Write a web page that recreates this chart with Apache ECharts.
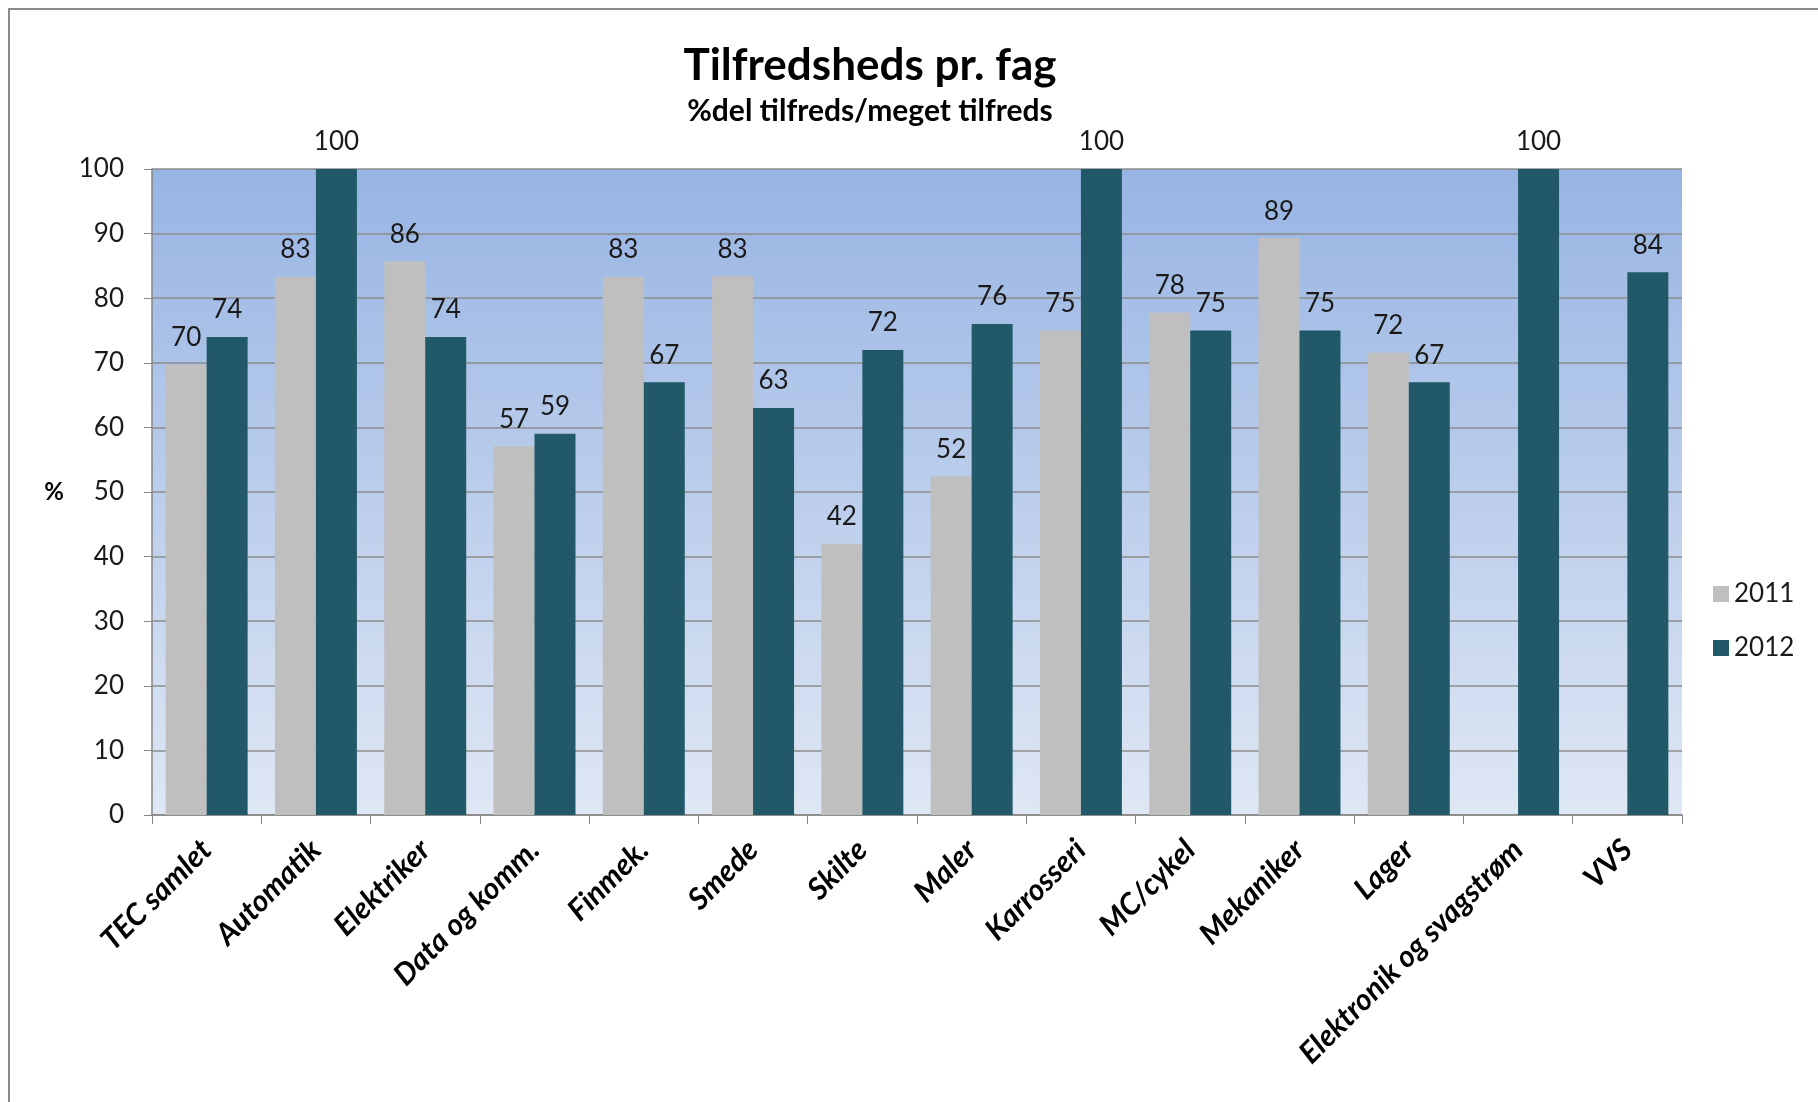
<!DOCTYPE html>
<html>
<head>
<meta charset="utf-8">
<script src="https://cdn.jsdelivr.net/npm/echarts@6/dist/echarts.min.js"></script>
<style>
  html, body { margin: 0; padding: 0; background: #fff; }
  #chart { width: 1818px; height: 1102px; }
</style>
</head>
<body>
<div id="chart"></div>
<script>
// kategorier (fag)
const fag = ['TEC samlet', 'Automatik', 'Elektriker', 'Data og komm.', 'Finmek.', 'Smede', 'Skilte',
  'Maler', 'Karrosseri', 'MC/cykel', 'Mekaniker', 'Lager', 'Elektronik og svagstrøm', 'VVS'];
// % tilfreds/meget tilfreds
const vaerdier2011 = [69.7, 83.3, 85.7, 57.1, 83.3, 83.4, 42.0, 52.4, 75.0, 77.8, 89.3, 71.6, null, null];
const vaerdier2012 = [74, 100, 74, 59, 67, 63, 72, 76, 100, 75, 75, 67, 100, 84];
const aar = ['2011', '2012'];

const chart = echarts.init(document.getElementById('chart'));

const fontFam = 'Lato, "Open Sans", sans-serif';

const labelStyle = {
  show: true,
  position: 'top',
  distance: 14,
  fontSize: 26,
  fontFamily: fontFam,
  color: '#1a1a1a',
  formatter: p => (p.value == null ? '' : Math.round(p.value))
};

const option = {
  backgroundColor: '#fff',
  animation: false,
  title: [
    {
      text: 'Tilfredsheds pr. fag',
      left: 865,
      top: 39,
      textAlign: 'center',
      textStyle: { fontSize: 44, fontWeight: 'bold', fontFamily: fontFam, color: '#000' }
    },
    {
      text: '%del tilfreds/meget tilfreds',
      left: 865,
      top: 91,
      textAlign: 'center',
      textStyle: { fontSize: 30, fontWeight: 'bold', fontFamily: fontFam, color: '#000' }
    }
  ],
  legend: {
    data: aar,
    orient: 'vertical',
    left: 1708,
    top: 576,
    icon: 'rect',
    itemWidth: 16,
    itemHeight: 16,
    itemGap: 28,
    textStyle: { fontSize: 26, fontFamily: fontFam, color: '#1a1a1a' }
  },
  graphic: [
    {
      type: 'rect',
      shape: { x: 9, y: 9, width: 2200, height: 2200 },
      style: { fill: 'none', stroke: '#8a8a8a', lineWidth: 2 },
      silent: true
    }
  ],
  grid: {
    left: 152,
    right: 136,
    top: 169,
    bottom: 287,
    show: true,
    borderWidth: 0,
    backgroundColor: {
      type: 'linear', x: 0, y: 0, x2: 0, y2: 1,
      colorStops: [
        { offset: 0, color: '#97B4E3' },
        { offset: 1, color: '#DFE7F4' }
      ]
    }
  },
  xAxis: {
    type: 'category',
    data: fag,
    axisLine: { lineStyle: { color: '#868686', width: 1.5 } },
    axisTick: { show: true, length: 9, lineStyle: { color: '#868686' } },
    axisLabel: {
      interval: 0,
      rotate: 45,
      margin: 30,
      fontSize: 30,
      fontWeight: 'bold',
      fontStyle: 'italic',
      fontFamily: fontFam,
      color: '#000'
    }
  },
  yAxis: {
    type: 'value',
    min: 0,
    max: 100,
    interval: 10,
    name: '%',
    nameLocation: 'middle',
    nameRotate: 0,
    nameGap: 88,
    nameTextStyle: { fontSize: 24, fontWeight: 'bold', fontFamily: fontFam, color: '#000' },
    axisLine: { show: true, lineStyle: { color: '#868686', width: 1.5 } },
    axisTick: { show: true, length: 8, lineStyle: { color: '#868686' } },
    axisLabel: { fontSize: 26, fontFamily: fontFam, color: '#1a1a1a', margin: 28 },
    splitLine: { lineStyle: { color: '#8c8c8c', width: 1.5 } }
  },
  series: [
    {
      name: '2011',
      type: 'bar',
      data: vaerdier2011,
      barGap: '0%',
      barCategoryGap: '25%',
      itemStyle: { color: '#BFBFBF' },
      label: labelStyle
    },
    {
      name: '2012',
      type: 'bar',
      data: vaerdier2012,
      itemStyle: { color: '#215968' },
      label: labelStyle
    }
  ]
};

chart.setOption(option);
</script>
</body>
</html>
